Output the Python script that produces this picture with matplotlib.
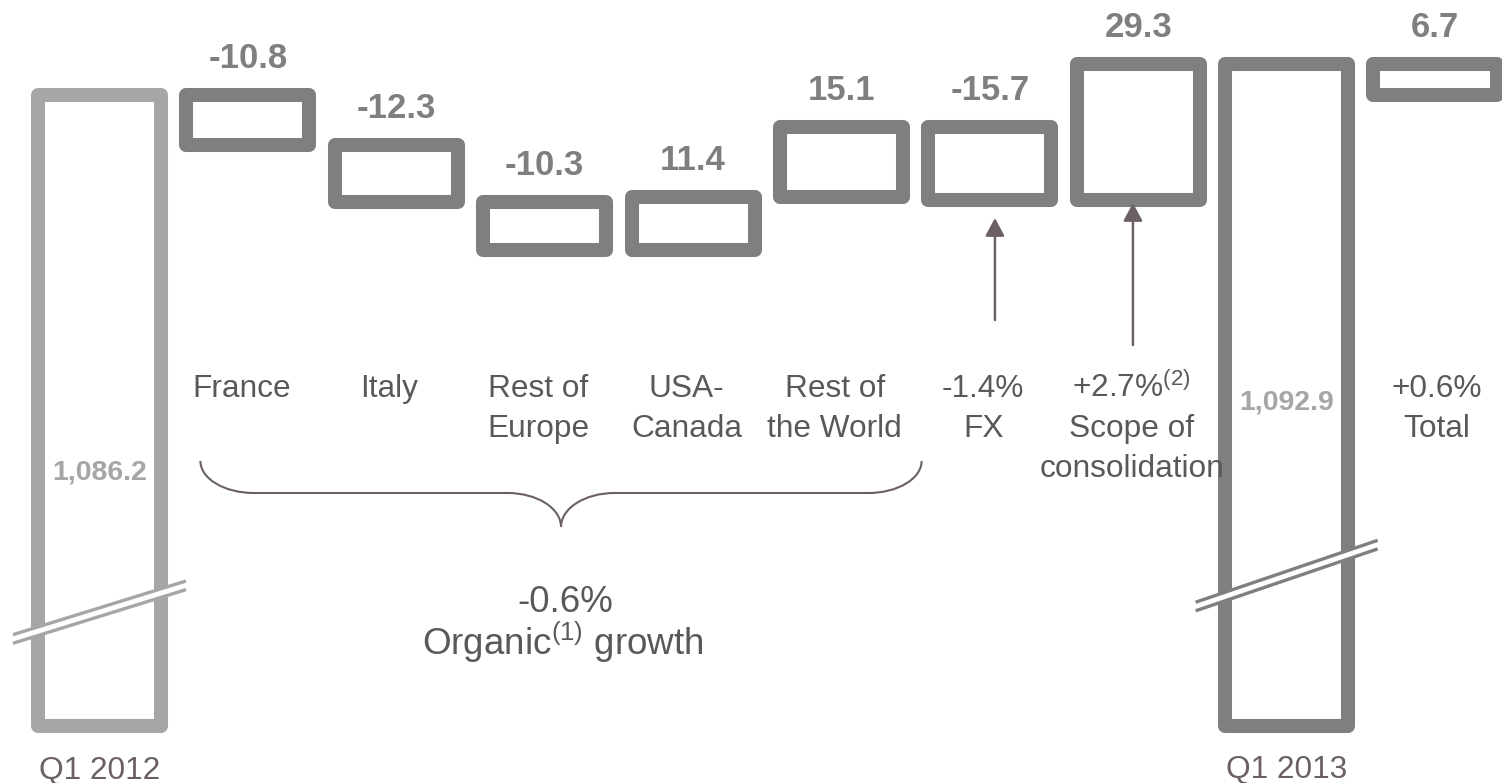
import numpy as np
import matplotlib
matplotlib.use("Agg")
import matplotlib.pyplot as plt
from matplotlib.path import Path
from matplotlib.patches import PathPatch
from matplotlib import transforms

plt.rcParams['font.family'] = ['Liberation Sans', 'DejaVu Sans']
plt.rcParams['mathtext.fontset'] = 'custom'
plt.rcParams['mathtext.rm'] = 'Liberation Sans'
plt.rcParams['mathtext.it'] = 'Liberation Sans:italic'
plt.rcParams['mathtext.bf'] = 'Liberation Sans:bold'

# ---------------- data ----------------
start_label = "Q1 2012"
end_label = "Q1 2013"
start_value = 1086.2
end_value = 1092.9
start_text = "1,086.2"
end_text = "1,092.9"
step_names = ["France", "Italy", "Rest of\nEurope", "USA-\nCanada",
              "Rest of\nthe World", "-1.4%\nFX",
              "+2.7%$^{(2)}$\nScope of\nconsolidation"]
step_values = [-10.8, -12.3, -10.3, 11.4, 15.1, -15.7, 29.3]
step_texts = ["-10.8", "-12.3", "-10.3", "11.4", "15.1", "-15.7", "29.3"]
total_change = 6.7
total_text = "6.7"
total_name = "+0.6%\nTotal"
organic_pct = "-0.6%"
organic_name = "Organic$^{(1)}$ growth"

# ---------------- style ----------------
LIGHT = '#A6A6A6'
DARK = '#7F7F7F'
TEXT = '#595959'
MAUVE = '#6B6064'
LW = 10.1          # outline width (pt)
BAR_W = 0.83
AXIS_FLOOR = 950.0  # truncated axis base for the two totals
H = 783.0
CAT_SIZE = 22.8

def yf(py):
    return 1 - py / H

fig = plt.figure(figsize=(15.02, 7.83), dpi=100)
ax = fig.add_axes([0, 0, 1, 1])
ax.set_xlim(-0.6705, 9.451)
ax.set_ylim(937.6, 1106.7)
ax.axis('off')
bt = ax.get_xaxis_transform()

n = len(step_values)
step_x = np.arange(1, n + 1)
levels = start_value + np.cumsum(step_values)
prev = np.concatenate([[start_value], levels[:-1]])
bottoms = np.minimum(prev, levels)
heights = np.abs(step_values)
end_x = n + 1
total_x = n + 2

# start / end bars
ax.bar(0, start_value - AXIS_FLOOR, bottom=AXIS_FLOOR, width=BAR_W,
       facecolor='white', edgecolor=LIGHT, linewidth=LW, joinstyle='round')
ax.bar(end_x, end_value - AXIS_FLOOR, bottom=AXIS_FLOOR, width=BAR_W,
       facecolor='white', edgecolor=DARK, linewidth=LW, joinstyle='round')
# step bars
ax.bar(step_x, heights, bottom=bottoms, width=BAR_W, facecolor='white',
       edgecolor=DARK, linewidth=LW, joinstyle='round')
# total bar
ax.bar(total_x, total_change, bottom=start_value, width=BAR_W,
       facecolor='white', edgecolor=DARK, linewidth=LW, joinstyle='round')

# value labels
tops = np.maximum(prev, levels)
for x, t, txt in zip(step_x, tops, step_texts):
    ax.annotate(txt, xy=(x, t), xytext=(0, 19.4), textcoords='offset points',
                ha='center', va='baseline', fontsize=25, fontweight='bold',
                color=DARK)
ax.annotate(total_text, xy=(total_x, start_value + total_change), xytext=(0, 19.4),
            textcoords='offset points', ha='center', va='baseline',
            fontsize=25, fontweight='bold', color=DARK)

# inner labels of big bars
ax.text(0, yf(479), start_text, transform=bt, ha='center', va='baseline',
        fontsize=20.5, fontweight='bold', color=LIGHT)
ax.text(end_x, yf(409), end_text, transform=bt, ha='center', va='baseline',
        fontsize=20.5, fontweight='bold', color=LIGHT)

# category labels
def put_lines(x, label, base_py=397, step_py=40, size=CAT_SIZE):
    for k, line in enumerate(label.split("\n")):
        ax.text(x, yf(base_py + k * step_py), line, transform=bt,
                ha='center', va='baseline', fontsize=size, color=TEXT)

for x, name in zip(step_x, step_names):
    put_lines(x - 0.045, name)
put_lines(total_x + 0.01, total_name)

ax.text(0, yf(779), start_label, transform=bt, ha='center', va='baseline',
        fontsize=CAT_SIZE, color=MAUVE)
ax.text(end_x, yf(778), end_label, transform=bt, ha='center', va='baseline',
        fontsize=CAT_SIZE, color=MAUVE)

# brace under organic categories
xL = step_x[0] - 0.32
xR = step_x[4] + 0.54
xm = (xL + xR) / 2
r = 0.36
ye, ymid, ytip = yf(461), yf(493), yf(527)
k = 0.5523
verts = [
    (xL, ye), (xL, ye - k * (ye - ymid)), (xL + (1 - k) * r, ymid), (xL + r, ymid),
    (xm - r, ymid),
    (xm - r + k * r, ymid), (xm, ytip + k * (ymid - ytip)), (xm, ytip),
    (xm, ytip + k * (ymid - ytip)), (xm + r - k * r, ymid), (xm + r, ymid),
    (xR - r, ymid),
    (xR - (1 - k) * r, ymid), (xR, ye - k * (ye - ymid)), (xR, ye),
]
codes = [Path.MOVETO, Path.CURVE4, Path.CURVE4, Path.CURVE4,
         Path.LINETO,
         Path.CURVE4, Path.CURVE4, Path.CURVE4,
         Path.CURVE4, Path.CURVE4, Path.CURVE4,
         Path.LINETO,
         Path.CURVE4, Path.CURVE4, Path.CURVE4]
ax.add_patch(PathPatch(Path(verts, codes), transform=bt, facecolor='none',
                       edgecolor=MAUVE, lw=1.5))

ax.text(xm + 0.03, yf(612), organic_pct, transform=bt, ha='center',
        va='baseline', fontsize=26.5, color=TEXT)
ax.text(xm + 0.01, yf(655), organic_name, transform=bt, ha='center',
        va='baseline', fontsize=26.5, color=TEXT)

# arrows under FX and scope
astyle = '-|>,head_length=10.8,head_width=5.8'
for x, tail_py, tip_py in [(step_x[5] + 0.034, 320, 218),
                           (step_x[6] - 0.036, 345, 203)]:
    ax.annotate('', xy=(x, yf(tip_py)), xycoords=bt,
                xytext=(x, yf(tail_py)), textcoords=bt,
                arrowprops=dict(arrowstyle=astyle, mutation_scale=1,
                                color=MAUVE, lw=1.8, shrinkA=0, shrinkB=0))

# axis-break marks
def break_mark(xc, yc, color, half, slope):
    tr = fig.dpi_scale_trans + transforms.ScaledTranslation(xc, yc, ax.transData)
    xs = np.array([-half, half])
    ax.plot(xs, xs * slope, transform=tr, color='white', lw=6.2,
            solid_capstyle='butt')
    for off in (0.043, -0.043):
        ax.plot(xs, xs * slope + off, transform=tr, color=color, lw=2.4,
                solid_capstyle='butt')

break_mark(0, 974.5, LIGHT, 0.865, 0.31)
break_mark(end_x, 982.4, DARK, 0.91, 0.34)

fig.savefig('out.png', dpi=100)
